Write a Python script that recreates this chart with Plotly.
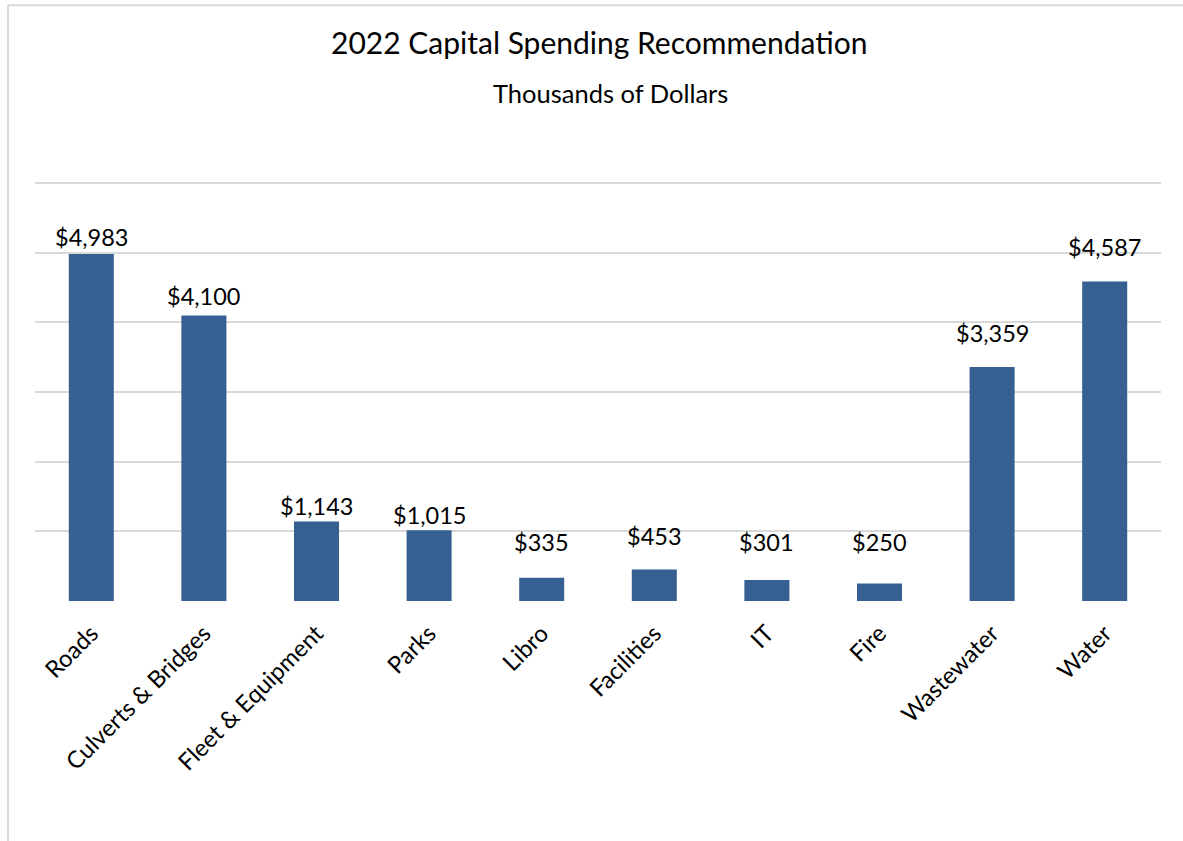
import plotly.graph_objects as go

categories = ["Roads", "Culverts & Bridges", "Fleet & Equipment", "Parks", "Libro",
              "Facilities", "IT", "Fire", "Wastewater", "Water"]
values = [4983, 4100, 1143, 1015, 335, 453, 301, 250, 3359, 4587]
value_labels = ["$4,983", "$4,100", "$1,143", "$1,015", "$335",
                "$453", "$301", "$250", "$3,359", "$4,587"]
# vertical gap (px) between bar top and label centre, as placed in the original
label_gap_px = [17, 19, 15, 15, 36, 33, 38, 42, 34, 35]

W, H = 1183, 841
YMAX = 6030
B = 601
T = B - (B - 183) * YMAX / 6000
L, R = 35, 1161
FONT = "Lato"

fig = go.Figure(go.Bar(
    x=categories, y=values,
    marker=dict(color="#376092", line=dict(width=0)),
    hoverinfo="x+y",
))

def px_x(p):
    return (p - L) / (R - L)

def px_y(p):
    return (B - p) / (B - T)

annotations = [
    dict(text="2022 Capital Spending Recommendation", xref="paper", yref="paper",
         x=px_x(598.5), y=px_y(42), xanchor="center", yanchor="middle",
         showarrow=False, font=dict(family=FONT, size=30, color="#000000")),
    dict(text="Thousands of Dollars", xref="paper", yref="paper",
         x=px_x(610.5), y=px_y(93), xanchor="center", yanchor="middle",
         showarrow=False, font=dict(family=FONT, size=25.5, color="#000000")),
]
for c, v, t, g in zip(categories, values, value_labels, label_gap_px):
    annotations.append(dict(text=t, x=c, y=v, xref="x", yref="y", yshift=g,
                            xanchor="center", yanchor="middle", showarrow=False,
                            font=dict(family=FONT, size=23.5, color="#000000")))

fig.update_layout(
    width=W, height=H,
    margin=dict(l=L, r=W - R, t=T, b=H - B, pad=0),
    paper_bgcolor="white", plot_bgcolor="white",
    bargap=0.6,
    showlegend=False,
    font=dict(family=FONT, color="#000000"),
    xaxis=dict(tickangle=-45, tickfont=dict(family=FONT, size=23.7, color="#000000"),
               showgrid=False, showline=False, ticks="", zeroline=False,
               ticklabelstandoff=13),
    yaxis=dict(range=[0, YMAX], tickvals=[0, 1000, 2000, 3000, 4000, 5000, 6000],
               showgrid=True, gridcolor="#d9d9d9",
               gridwidth=1.5, showticklabels=False, zeroline=False, ticks="",
               showline=False),
    annotations=annotations,
    shapes=[
        dict(type="line", xref="paper", yref="paper", x0=px_x(8), x1=px_x(1183),
             y0=px_y(5), y1=px_y(5), line=dict(color="#d9d9d9", width=2)),
        dict(type="line", xref="paper", yref="paper", x0=px_x(8), x1=px_x(8),
             y0=px_y(5), y1=px_y(841), line=dict(color="#d9d9d9", width=2)),
    ],
)

fig.write_html("out.html")
